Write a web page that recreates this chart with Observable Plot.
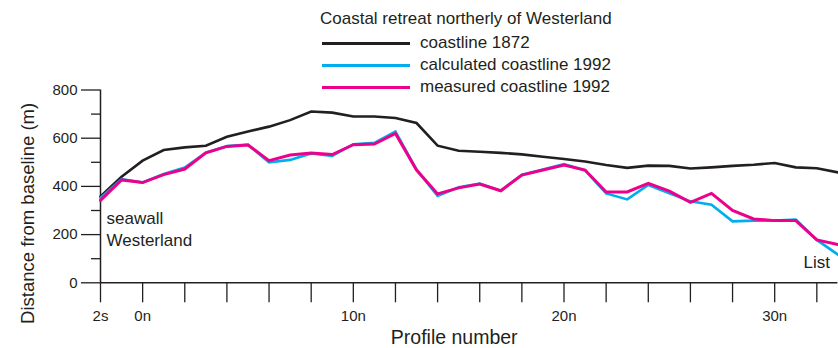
<!DOCTYPE html>
<html>
<head>
<meta charset="utf-8">
<script src="https://cdn.jsdelivr.net/npm/d3@7"></script>
<script src="https://cdn.jsdelivr.net/npm/@observablehq/plot@0.6"></script>
<style>
  html, body { margin: 0; padding: 0; background: #fff; }
  #wrap { position: relative; width: 838px; height: 348px; font-family: "Liberation Sans", Arial, Helvetica, sans-serif; color: #231f20; }
  #legend { position: absolute; left: 320px; top: 8px; font-size: 17px; line-height: 22px; }
  #legend .title { height: 22px; margin-bottom: 2px; }
  #legend .row { display: flex; align-items: center; height: 22px; }
  #legend .sw { display: inline-block; width: 88px; height: 3px; margin-left: 2px; margin-right: 10px; }
</style>
</head>
<body>
<div id="wrap"><div id="legend"></div></div>
<script>
// Data
const profiles = [-2,-1,0,1,2,3,4,5,6,7,8,9,10,11,12,13,14,15,16,17,18,19,20,21,22,23,24,25,26,27,28,29,30,31,32,33];
const coast1872 = [358,440,507,551,562,569,606,628,648,675,711,706,690,690,684,663,569,548,544,539,533,523,514,503,489,477,486,485,474,479,485,490,497,479,475,458];
const calc1992 = [352,430,416,452,478,540,567,573,500,510,537,527,575,581,628,470,360,396,412,382,449,470,493,466,371,346,406,371,338,324,255,258,258,262,178,117];
const meas1992 = [342,427,416,449,472,539,566,572,507,530,539,532,573,576,620,468,369,394,410,382,447,468,489,468,377,377,413,380,334,371,300,265,258,258,178,159];

const seriesNames = ["coastline 1872", "calculated coastline 1992", "measured coastline 1992"];
const seriesColors = ["#231f20", "#00aeef", "#ec008c"];
const seriesWidths = [2.6, 2.6, 3];
const legendTitle = "Coastal retreat northerly of Westerland";

const xTickValues = [-2,0,2,4,6,8,10,12,14,16,18,20,22,24,26,28,30,32];
const xTickLabels = {"-2": "2s", "0": "0n", "10": "10n", "20": "20n", "30": "30n"};
const yMajorTicks = [0,200,400,600,800];
const yMinorTicks = [100,300,500,700];

const seawallNote = [{x: -2, y: 310, text: "seawall\nWesterland"}];
const listNote = [{x: 33, y: 84, text: "List"}];

const allSeries = [coast1872, calc1992, meas1992];
const rows = [];
allSeries.forEach((vals, s) => vals.forEach((v, i) => rows.push({profile: profiles[i], value: v, series: seriesNames[s]})));

const ink = "#231f20";
const font = "'Liberation Sans', Arial, Helvetica, sans-serif";

const chart = Plot.plot({
  width: 838,
  height: 348,
  marginLeft: 100,
  marginRight: 0.6,
  marginTop: 89.5,
  marginBottom: 65.7,
  style: {fontFamily: font, color: ink, background: "transparent", overflow: "visible"},
  x: {domain: [-2, 33]},
  y: {domain: [0, 800]},
  marks: [
    Plot.axisY({ticks: yMajorTicks, tickSize: 19, tickPadding: 4, fontSize: 15, label: null, stroke: ink, strokeWidth: 1.3, strokeOpacity: 1}),
    Plot.axisY({ticks: yMinorTicks, tickSize: 9, text: null, label: null, stroke: ink, strokeWidth: 1.3, strokeOpacity: 1}),
    Plot.axisX({ticks: xTickValues, tickSize: 20, tickPadding: 8, fontSize: 15,
      tickFormat: d => xTickLabels[String(d)] ?? "", label: null,
      stroke: ink, strokeWidth: 1.3, strokeOpacity: 1}),
    Plot.ruleY([0], {stroke: ink, strokeWidth: 1.5}),
    Plot.ruleX([-2], {y1: 0, y2: 800, stroke: ink, strokeWidth: 1.5}),
    ...seriesNames.map((name, s) => Plot.line(rows.filter(r => r.series === name), {
      x: "profile", y: "value", stroke: seriesColors[s], strokeWidth: seriesWidths[s], strokeLinejoin: "miter", strokeMiterlimit: 4
    })),
    Plot.text(seawallNote, {x: "x", y: "y", text: "text", textAnchor: "start", dx: 6,
      fontSize: 17, fill: ink, lineAnchor: "top", lineHeight: 1.3}),
    Plot.text(listNote, {x: "x", y: "y", text: "text", textAnchor: "end", dx: -8,
      fontSize: 17, fill: ink, lineAnchor: "middle"}),
    Plot.text(["Profile number"], {frameAnchor: "bottom", textAnchor: "middle", lineAnchor: "middle", dx: -15, dy: 55, fontSize: 19.5, fill: ink}),
    Plot.text(["Distance from baseline (m)"], {frameAnchor: "left", textAnchor: "middle", rotate: -90, dx: -72, dy: 27, fontSize: 18.5, fill: ink})
  ]
});

document.getElementById("wrap").prepend(chart);

const legend = document.getElementById("legend");
const t = document.createElement("div");
t.className = "title";
t.textContent = legendTitle;
legend.appendChild(t);
seriesNames.forEach((name, s) => {
  const r = document.createElement("div");
  r.className = "row";
  const sw = document.createElement("span");
  sw.className = "sw";
  sw.style.background = seriesColors[s];
  const lab = document.createElement("span");
  lab.textContent = name;
  r.appendChild(sw);
  r.appendChild(lab);
  legend.appendChild(r);
});
</script>
</body>
</html>
